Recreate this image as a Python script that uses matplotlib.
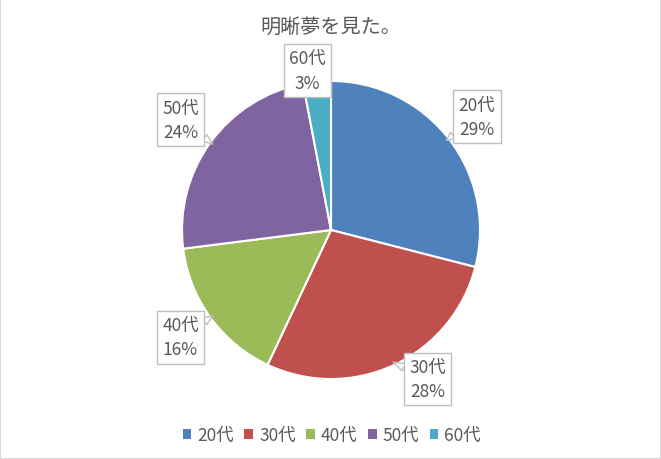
import matplotlib
matplotlib.use("Agg")
import matplotlib.pyplot as plt
from matplotlib.patches import Patch, Rectangle
import numpy as np

plt.rcParams['font.family'] = ['Noto Sans CJK JP', 'DejaVu Sans']

title = "明晰夢を見た。"
categories = ["20代", "30代", "40代", "50代", "60代"]
values = [29, 28, 16, 24, 3]
colors = ["#4F81BD", "#C0504D", "#9BBB59", "#8064A2", "#4BACC6"]

# label box centres (layout, in pie-radius units)
label_pos = [(0.98, 0.76), (0.65, -1.0), (-1.01, -0.72), (-1.01, 0.74), (-0.16, 1.07)]

txt = "#595959"
fig = plt.figure(figsize=(6.61, 4.6), dpi=100)
fig.patches.append(Rectangle((0, 0), 1, 1, transform=fig.transFigure,
                             fill=False, edgecolor="#D9D9D9", linewidth=1.5))

L = 1.4
cx, cy, R = 331, 231, 149
w = 2 * L * R
ax = fig.add_axes([(cx - w / 2) / 661, (460 - cy - w / 2) / 460, w / 661, w / 460])

wedges, _ = ax.pie(values, colors=colors, startangle=90, counterclock=False,
                   radius=1.0, center=(0, 0), frame=True,
                   wedgeprops=dict(edgecolor="white", linewidth=1.5))
ax.set_xlim(-L, L)
ax.set_ylim(-L, L)
ax.axis("off")

total = sum(values)
cum = 0
for cat, v, (lx, ly) in zip(categories, values, label_pos):
    mid = 90 - (cum + v / 2) / total * 360
    cum += v
    tx, ty = np.cos(np.radians(mid)) * 0.98, np.sin(np.radians(mid)) * 0.98
    ax.annotate(f"{cat}\n{round(v / total * 100)}%", xy=(tx, ty), xytext=(lx, ly),
                ha="center", va="center", fontsize=12.5, color=txt, linespacing=1.45,
                bbox=dict(boxstyle="square,pad=0.3", fc="white", ec="#BFBFBF", lw=1),
                arrowprops=dict(arrowstyle="wedge,tail_width=0.45,shrink_factor=0.5",
                                fc="white", ec="#BFBFBF", lw=1, shrinkA=0, shrinkB=0))

fig.text(0.5, 1 - 27 / 460, title, ha="center", va="center", fontsize=14.5, color=txt)

handles = [Patch(facecolor=c, edgecolor="none") for c in colors]
fig.legend(handles, categories, loc="center", bbox_to_anchor=(0.502, 1 - 436 / 460),
           ncol=5, frameon=False, fontsize=12.5, labelcolor=txt,
           handlelength=0.5, handleheight=0.5, handletextpad=0.35, columnspacing=0.6)

fig.savefig("out.png", dpi=100)
